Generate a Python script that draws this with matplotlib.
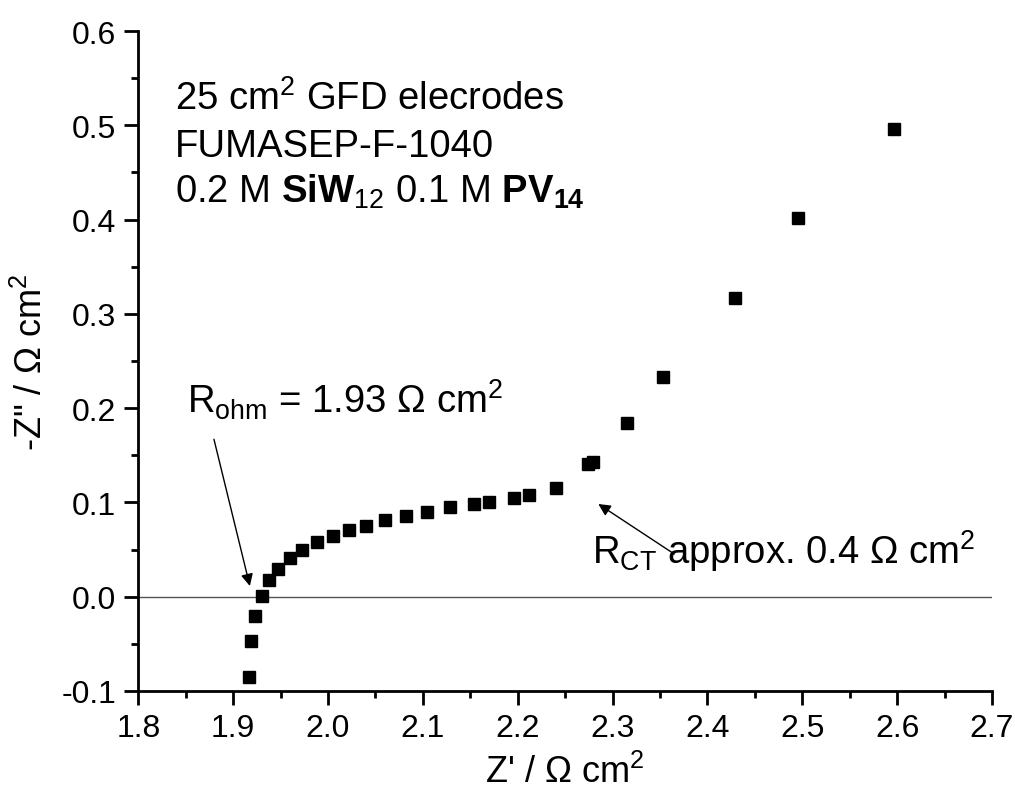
import matplotlib
matplotlib.use("Agg")
import matplotlib.pyplot as plt
from matplotlib.ticker import MultipleLocator

plt.rcParams['font.family'] = ['Liberation Sans', 'DejaVu Sans']
plt.rcParams['mathtext.fontset'] = 'custom'
plt.rcParams['mathtext.rm'] = 'Liberation Sans'
plt.rcParams['mathtext.it'] = 'Liberation Sans:italic'
plt.rcParams['mathtext.bf'] = 'Liberation Sans:bold'

# Nyquist data: real part Z' and negative imaginary part -Z'' (Ohm cm^2)
z_real = [1.9165, 1.9187, 1.9229, 1.930, 1.938, 1.947, 1.960, 1.973, 1.988,
          2.005, 2.022, 2.040, 2.060, 2.082, 2.104, 2.129, 2.154, 2.170,
          2.196, 2.212, 2.240, 2.274, 2.279, 2.315, 2.3535, 2.4287, 2.4954,
          2.5965]
z_imag_neg = [-0.0855, -0.047, -0.0204, 0.001, 0.018, 0.0297, 0.0414, 0.0498,
              0.058, 0.064, 0.0707, 0.075, 0.0813, 0.0859, 0.0898, 0.0948,
              0.0983, 0.100, 0.1047, 0.108, 0.115, 0.1407, 0.143, 0.184,
              0.2333, 0.3164, 0.4013, 0.4957]

fig = plt.figure(figsize=(10.15, 8.03), dpi=100)
ax = fig.add_axes([0.1363, 0.1383, 0.9773 - 0.1363, 0.9601 - 0.1383])

ax.axhline(0, color='#555555', lw=1.0, zorder=1)
ax.plot(z_real, z_imag_neg, ls='none', marker='s', ms=9, color='black', zorder=3)

ax.set_xlim(1.8, 2.7)
ax.set_ylim(-0.1, 0.6)
ax.xaxis.set_major_locator(MultipleLocator(0.1))
ax.xaxis.set_minor_locator(MultipleLocator(0.05))
ax.yaxis.set_major_locator(MultipleLocator(0.1))
ax.yaxis.set_minor_locator(MultipleLocator(0.05))
ax.xaxis.set_major_formatter(plt.FuncFormatter(lambda v, p: f"{v:.1f}"))
ax.yaxis.set_major_formatter(plt.FuncFormatter(lambda v, p: f"{v:.1f}"))

for s in ['top', 'right']:
    ax.spines[s].set_visible(False)
for s in ['left', 'bottom']:
    ax.spines[s].set_linewidth(2.0)
ax.tick_params(which='major', direction='out', length=10, width=2.0,
               labelsize=23, pad=6)
ax.tick_params(which='minor', direction='out', length=5, width=2.0)

ax.set_xlabel("Z' / $\\Omega$ cm$^2$", fontsize=26, labelpad=8)
ax.set_ylabel('-Z" / $\\Omega$ cm$^2$', fontsize=26, color='black')
ax.yaxis.set_label_coords(-0.103, 0.5)

txt_size = 27.5
ax.text(1.8385, 0.517, "25 cm$^2$ GFD elecrodes", fontsize=txt_size, va='baseline')
ax.text(1.8385, 0.4677, "FUMASEP-F-1040", fontsize=txt_size, va='baseline')
ax.text(1.8385, 0.4186,
        "0.2 M $\\mathbf{SiW}_{12}$ 0.1 M $\\mathbf{PV}_{\\mathbf{14}}$",
        fontsize=txt_size, va='baseline')

ax.annotate("R$_{\\mathrm{ohm}}$ = 1.93 $\\Omega$ cm$^2$",
            xy=(1.851, 0.1955), fontsize=txt_size, va='baseline')
ax.annotate("", xy=(1.9176, 0.0113), xytext=(1.8797, 0.167),
            arrowprops=dict(arrowstyle='-|>', color='black', lw=1.0,
                            mutation_scale=18, shrinkA=0, shrinkB=0))

ax.annotate("R$_{\\mathrm{CT}}$ approx. 0.4 $\\Omega$ cm$^2$",
            xy=(2.278, 0.0357), fontsize=txt_size, va='baseline')
ax.annotate("", xy=(2.285, 0.0983), xytext=(2.365, 0.0453),
            arrowprops=dict(arrowstyle='-|>', color='black', lw=1.0,
                            mutation_scale=18, shrinkA=0, shrinkB=0))

fig.savefig("out.png", dpi=100)
